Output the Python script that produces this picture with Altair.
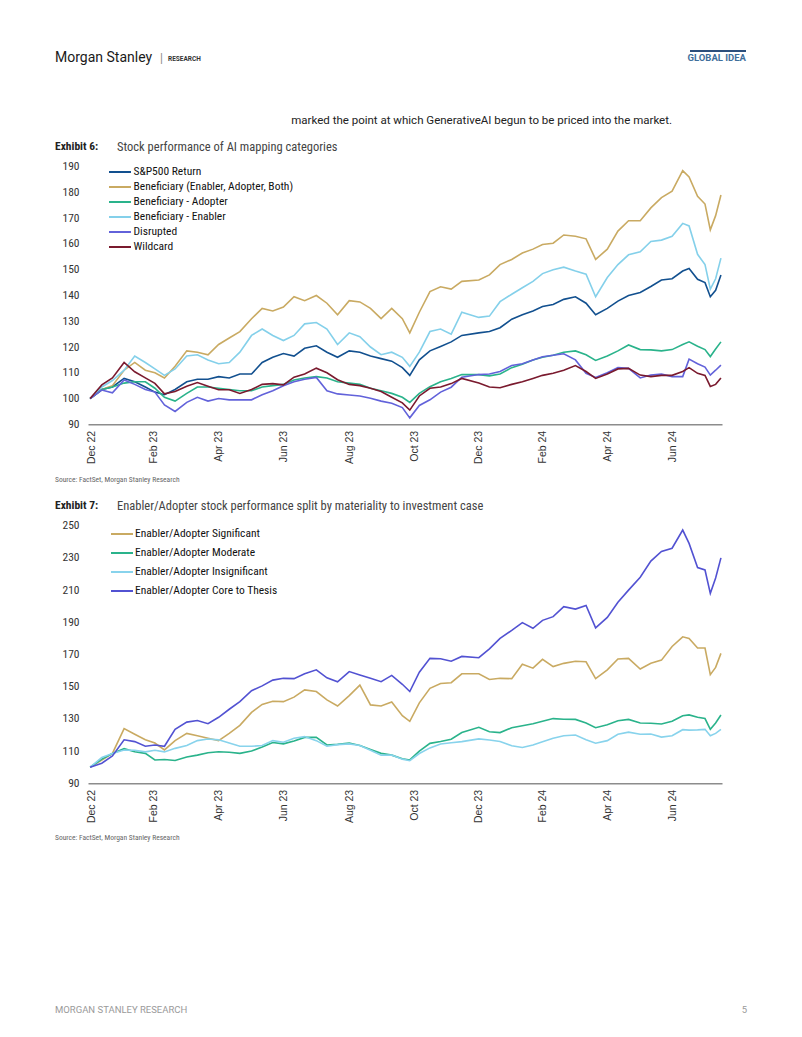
import altair as alt
import pandas as pd

# ---------------- data ----------------
DATES = ["2022-12-30", "2023-01-10", "2023-01-20", "2023-01-31", "2023-02-10", "2023-02-20",
         "2023-03-01", "2023-03-10", "2023-03-20", "2023-03-31", "2023-04-10", "2023-04-20",
         "2023-04-30", "2023-05-10", "2023-05-20", "2023-05-31", "2023-06-10", "2023-06-20",
         "2023-06-30", "2023-07-10", "2023-07-20", "2023-07-31", "2023-08-10", "2023-08-20",
         "2023-08-31", "2023-09-10", "2023-09-20", "2023-09-30", "2023-10-10", "2023-10-20",
         "2023-10-27", "2023-11-05", "2023-11-15", "2023-11-25", "2023-12-05", "2023-12-15",
         "2023-12-31", "2024-01-10", "2024-01-20", "2024-01-31", "2024-02-10", "2024-02-20",
         "2024-02-29", "2024-03-10", "2024-03-20", "2024-03-31", "2024-04-10", "2024-04-19",
         "2024-04-30", "2024-05-10", "2024-05-20", "2024-05-31", "2024-06-10", "2024-06-20",
         "2024-06-30", "2024-07-10", "2024-07-16", "2024-07-24", "2024-07-31", "2024-08-05",
         "2024-08-10", "2024-08-15"]

SP500 = [100, 103.5, 104.5, 107.8, 106.5, 104.5, 102.5, 101.5, 103.5, 106.5,
         107.5, 107.5, 108.5, 108, 109.5, 109.5, 114, 116, 117.5, 116.5,
         119.5, 120.5, 118, 116, 118.5, 118, 116.5, 115.5, 114.5, 112,
         109, 115, 118.5, 120.2, 122, 124.5, 125.5, 126, 127.5, 130.8,
         132.5, 134, 135.7, 136.5, 138.5, 139.5, 137, 132.5, 135, 137.8,
         140, 141.2, 143.5, 146, 146.5, 149.5, 150.5, 146.3, 145, 139.5,
         142, 148]
BEN_ALL = [100, 103.5, 105, 111, 114, 111, 110, 108, 112.5, 118.5,
           118, 117, 121, 123.5, 126, 131, 135, 134, 135.5, 139.5,
           138, 140, 137, 132.5, 138, 137.5, 135, 131, 135, 131,
           125.5, 133.5, 141.5, 143.4, 142.5, 145.5, 146, 148, 152, 154,
           156.5, 158, 159.8, 160.3, 163.5, 163, 162, 154, 158, 165,
           169, 169, 174, 178, 180.5, 188.5, 186, 178.5, 175.5, 165.5,
           171, 179]
BEN_ADOPTER = [100, 103.5, 104.5, 106, 106.5, 106.5, 104, 100.5, 99, 102,
               104.5, 104.5, 104, 103.5, 103, 103, 104.5, 105, 105.5, 107.2,
               108, 108.5, 108, 106.5, 106, 105.5, 104, 103, 102, 100.5,
               98.5, 102, 104.6, 106.5, 107.8, 109.3, 109.3, 108.8, 109.5, 112,
               113.3, 115, 116, 116.8, 118, 118.5, 117, 114.8, 116.5, 118.5,
               120.8, 119, 118.9, 118.5, 119, 121, 122, 120.3, 119, 116.3,
               119.2, 122]
BEN_ENABLER = [100, 104.5, 107, 111, 116.5, 114, 111.5, 109, 111.5, 116.5,
               117, 115, 113.5, 114, 118, 124.5, 127, 124.5, 122.5, 124.5,
               129, 129.5, 127, 121, 125.5, 124, 120, 117, 118, 116,
               112.5, 118, 126, 127, 125, 133.5, 131.5, 132, 137.6, 140.5,
               143, 145.5, 148.5, 150, 151, 149.5, 148.3, 139.5, 147, 152,
               155.8, 157, 161, 161.5, 163, 168, 167, 156, 152, 142.5,
               146.5, 154.5]
DISRUPTED = [100, 103.3, 102.2, 107.2, 105.5, 103.5, 102.5, 97.5, 95, 98.5,
             100.5, 99, 100, 99.5, 99.5, 99.5, 101.5, 103, 105, 106.5,
             107.5, 108.2, 103, 101.8, 101.4, 101, 100.1, 99, 98.2, 96.5,
             92.5, 97.3, 99.5, 102.5, 104.4, 108.3, 109.3, 109.5, 110.5, 112.8,
             113.5, 115, 116.2, 116.8, 117.4, 115, 109.8, 108.2, 110, 112,
             111.7, 108, 109.1, 109.5, 108.5, 108.5, 115.3, 113.5, 112.2, 109.1,
             111, 113]
WILDCARD = [100, 105.3, 108, 114, 110.4, 108, 105.9, 101.8, 102.7, 104.8,
            106.2, 104.8, 103.4, 103.4, 102, 103.5, 105.5, 105.8, 105.3, 108.3,
            109.5, 111.8, 110, 107.3, 105.5, 105, 104, 102.7, 100.5, 98.3,
            95.5, 101, 104, 104.5, 105.8, 107.8, 106, 104.5, 104.2, 105.5,
            106.5, 107.8, 109, 109.8, 111, 112.8, 110.5, 107.8, 109.5, 111.5,
            111.7, 109.1, 108.5, 109, 109, 110.5, 112, 109.8, 109, 104.7,
            105.5, 108]

SIGNIFICANT = [100, 104.5, 108.6, 124, 120.5, 117, 115, 110.7, 116.5, 121,
               119.5, 118, 116.5, 121, 126, 134, 139, 141, 140.7, 143.5,
               148, 147, 141.8, 138, 144.5, 151, 138.7, 138, 140.5, 132,
               128.5, 140, 149, 152, 152.5, 158, 158, 154.5, 155.2, 155,
               164, 161.5, 167, 162.5, 164.5, 165.8, 165.5, 155, 160.5, 167.2,
               167.6, 161, 164.5, 166.5, 175, 181, 180, 174, 174, 157.5,
               162, 170.7]
MODERATE = [100, 105, 108.5, 111.5, 109.6, 108.6, 104.5, 104.8, 104.2, 106.3,
            107.5, 109, 109.6, 109.3, 108.6, 110, 112.5, 115.3, 114.5, 116.3,
            118.5, 118.5, 113.8, 114.2, 115, 113.5, 111, 108.6, 107.5, 105.3,
            104.5, 110, 114.8, 116, 117.4, 121.5, 124.8, 122, 121.5, 124.5,
            125.8, 127, 128.5, 130.2, 129.8, 129.7, 127.5, 124.5, 126.3, 128.8,
            129.7, 127.5, 127.3, 126.8, 128.5, 132, 132.5, 131, 130.2, 123.5,
            127.5, 132.4]
INSIGNIFICANT = [100, 106, 108.5, 110.7, 110.5, 109.5, 110.5, 109.5, 111.7, 113.5,
                 116.5, 117.5, 117, 115, 113, 113, 113.5, 116.5, 115.5, 118,
                 119, 116.5, 113, 114, 114.5, 113.5, 110.5, 107.5, 107.5, 105,
                 104, 108.5, 112, 114.4, 115.2, 115.9, 117.6, 116.9, 116, 113.3,
                 112.2, 113.8, 115.8, 118, 119.5, 120, 117, 114.9, 116.5, 120.5,
                 121.8, 120.5, 120.6, 118.7, 119.5, 123.3, 123, 123.2, 123.5, 119.5,
                 121, 123.5]
CORE = [100, 102.5, 107, 117, 115.9, 113, 113.8, 113, 123.5, 128,
        129, 127, 131, 136, 140.7, 147.5, 150.5, 154.1, 155.2, 155,
        158, 160.5, 155.5, 153, 159.4, 157.3, 155.2, 153.1, 157, 151.5,
        147, 159, 167.6, 167.4, 165.8, 168.8, 168, 173.5, 180, 185,
        189.8, 186.3, 191.2, 193.5, 199.7, 198.2, 200.5, 186.5, 193, 202.5,
        210, 218, 228, 234, 236, 247.3, 239, 224, 222.5, 208,
        217.5, 230]

S1_NAMES = ["S&P500 Return", "Beneficiary (Enabler, Adopter, Both)", "Beneficiary - Adopter",
            "Beneficiary - Enabler", "Disrupted", "Wildcard"]
S1_VALUES = [SP500, BEN_ALL, BEN_ADOPTER, BEN_ENABLER, DISRUPTED, WILDCARD]
S1_COLORS = ["#12508f", "#c9aa62", "#2ab38b", "#84d0ea", "#6262da", "#7a1a2e"]

S2_NAMES = ["Enabler/Adopter Significant", "Enabler/Adopter Moderate",
            "Enabler/Adopter Insignificant", "Enabler/Adopter Core to Thesis"]
S2_VALUES = [SIGNIFICANT, MODERATE, INSIGNIFICANT, CORE]
S2_COLORS = ["#c9aa62", "#2ab38b", "#88d3ec", "#5252d2"]

Y1_TICKS = [90, 100, 110, 120, 130, 140, 150, 160, 170, 180, 190]
Y2_TICKS = [90, 110, 130, 150, 170, 190, 210, 230, 250]
X_TICKS = [(2022, 12, 31), (2023, 2, 28), (2023, 4, 30), (2023, 6, 30), (2023, 8, 31),
           (2023, 10, 31), (2023, 12, 31), (2024, 2, 29), (2024, 4, 30), (2024, 6, 30)]


def long_frame(names, values):
    rows = []
    for i, (n, vals) in enumerate(zip(names, values)):
        for d, v in zip(DATES, vals):
            rows.append({"date": d, "series": n, "value": v, "k": i})
    df = pd.DataFrame(rows)
    df["date"] = pd.to_datetime(df["date"])
    return df


df1 = long_frame(S1_NAMES, S1_VALUES)
df2 = long_frame(S2_NAMES, S2_VALUES)

# ---------------- layout (page pixels, the svg starts at page 8,8) ----------------
W, H = 786, 1021
OFF = 8
COND = "Liberation Sans Narrow, Roboto Condensed, DejaVu Sans Condensed, Roboto, sans-serif"
ARIAL = "Liberation Sans, Arial, sans-serif"

x_dom = [alt.DateTime(year=2022, month=12, date=28), alt.DateTime(year=2024, month=8, date=16)]
x_rng = [88 - OFF, 722 - OFF]
tick_dates = [alt.DateTime(year=y, month=m, date=d) for (y, m, d) in X_TICKS]


def x_enc(axis_y):
    return alt.X("date:T",
                 scale=alt.Scale(domain=x_dom, range=x_rng),
                 axis=alt.Axis(orient="bottom", offset=axis_y - (H + OFF), values=tick_dates,
                               format="%b %y", labelAngle=270, labelPadding=6,
                               labelFont=ARIAL, labelFontSize=10.5, labelColor="#333333",
                               labelOverlap=False, labelFlush=False, ticks=False, tickSize=0,
                               domain=True, domainColor="#8c8c8c", domainWidth=1.5,
                               grid=False, title=None))


def y_enc(dom, top, bottom, ticks):
    return alt.Y("value:Q",
                 scale=alt.Scale(domain=dom, range=[bottom - OFF, top - OFF], nice=False, zero=False),
                 axis=alt.Axis(orient="left", offset=-(88 - OFF), values=ticks, domain=False,
                               ticks=False, tickSize=0, grid=False, labelPadding=9,
                               labelFont=COND, labelFontSize=11.5, labelColor="#333333",
                               title=None))


# chart 1 legend: a wide custom stroke symbol on a small symbol size, so rows can sit closer
legend1 = alt.Legend(orient="none", legendX=113.5 - OFF, legendY=165.5 - OFF, direction="vertical",
                     title=None, symbolType="M-2,0L2,0", symbolSize=121, symbolStrokeWidth=2,
                     symbolOffset=0, labelOffset=7, padding=0, rowPadding=3,
                     labelFont=COND, labelFontSize=11.5, labelColor="#111111", labelLimit=400)

legend2 = alt.Legend(orient="none", legendX=110 - OFF, legendY=522 - OFF, direction="vertical",
                     title=None, symbolType="stroke", symbolSize=484, symbolStrokeWidth=2,
                     symbolOffset=0, labelOffset=1, padding=0, rowPadding=1,
                     labelFont=COND, labelFontSize=11.5, labelColor="#111111", labelLimit=400)

chart1 = alt.Chart(df1).mark_line(strokeWidth=1.6).encode(
    x=x_enc(424.3),
    y=y_enc([90, 190], 166.7, 424.3, Y1_TICKS),
    color=alt.Color("series:N", sort=S1_NAMES,
                    scale=alt.Scale(domain=S1_NAMES, range=S1_COLORS),
                    legend=legend1),
    order="k:Q",
)

chart2 = alt.Chart(df2).mark_line(strokeWidth=1.6).encode(
    x=x_enc(783.3),
    y=y_enc([90, 250], 525.7, 783.3, Y2_TICKS),
    color=alt.Color("series:N", sort=S2_NAMES,
                    scale=alt.Scale(domain=S2_NAMES, range=S2_COLORS),
                    legend=legend2),
    order="k:Q",
)


def txt(text, x, y, size, color="#222222", font=COND, weight="normal", align="left"):
    return alt.Chart(pd.DataFrame({"t": [text]})).mark_text(
        align=align, baseline="middle", fontSize=size, font=font, fontWeight=weight, color=color
    ).encode(text="t:N", x=alt.value(x - OFF), y=alt.value(y - OFF))


page = [
    txt("Morgan Stanley", 55, 58, 14, "#1a1a1a", "Roboto"),
    txt("|", 160, 58, 12, "#8a8a8a", "Roboto"),
    txt("RESEARCH", 168, 58.5, 6.5, "#333333", "Roboto", "bold"),
    txt("GLOBAL IDEA", 746, 58, 9.5, "#3f6f9c", "Roboto", "bold", "right"),
    txt("marked the point at which GenerativeAI begun to be priced into the market.",
        672, 121, 11.5, "#222222", "Roboto", "normal", "right"),
    txt("Exhibit 6:", 55, 147, 11.5, "#222222", COND, "bold"),
    txt("Stock performance of AI mapping categories", 117, 147, 12.5, "#444444", COND),
    txt("Source: FactSet, Morgan Stanley Research", 55, 480, 7.5, "#666666", COND),
    txt("Exhibit 7:", 55, 506, 11.5, "#222222", COND, "bold"),
    txt("Enabler/Adopter stock performance split by materiality to investment case",
        117, 506, 12.5, "#444444", COND),
    txt("Source: FactSet, Morgan Stanley Research", 55, 838, 7.5, "#666666", COND),
    txt("MORGAN STANLEY RESEARCH", 55, 1010, 9.5, "#9a9a9a", "Roboto"),
    txt("5", 747, 1010, 9.5, "#9a9a9a", "Roboto", "normal", "right"),
]

header_rule = alt.Chart(pd.DataFrame({"a": [0]})).mark_rule(color="#2c4f7c", strokeWidth=2).encode(
    x=alt.value(690 - OFF), x2=alt.value(746 - OFF), y=alt.value(51 - OFF))

chart = alt.layer(chart1, chart2, header_rule, *page).resolve_scale(
    x="independent", y="independent", color="independent"
).properties(
    width=W, height=H, autosize=alt.AutoSizeParams(type="none"), padding=0, background="white"
).configure_view(stroke=None)

chart.save("out.html", embed_options={"renderer": "svg", "actions": False})
